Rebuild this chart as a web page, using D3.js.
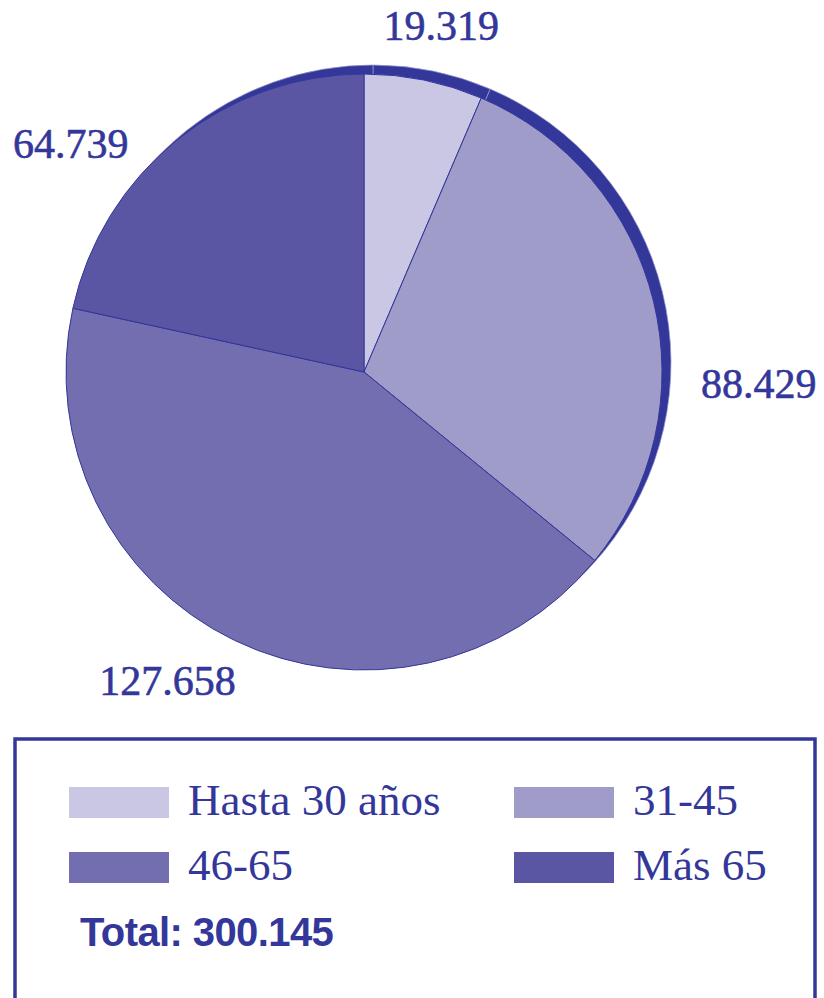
<!DOCTYPE html>
<html>
<head>
<meta charset="utf-8">
<script src="https://cdn.jsdelivr.net/npm/d3@7"></script>
<style>
  body { margin: 0; background: #fff; }
  svg { display: block; }
</style>
</head>
<body>
<div id="chart"></div>
<script>
// data
const categories = ["Hasta 30 años", "31-45", "46-65", "Más 65"];
const values = [19319, 88429, 127658, 64739];
const valueLabels = ["19.319", "88.429", "127.658", "64.739"];
const totalLabel = "Total: 300.145";

// styles
const sliceColors = ["#c9c7e4", "#a09cca", "#726eb0", "#5a56a3"];
const ink = "#34379a";

const svgWidth = 824;
const svgHeight = 998;
const cx = 364, cy = 372, radius = 298;
// the dark rim is a copy of the pie shifted up-right
const shadowDx = 9, shadowDy = -9;

// labels sit outside the pie, shifted off the slice middle a bit
const labelRadius = [355, 395, 366, 372];
const labelTurn = [1, 15.4, 6.7, -13.2]; // degrees

const svg = d3.select("#chart")
  .append("svg")
  .attr("width", svgWidth)
  .attr("height", svgHeight);

const pie = d3.pie().sort(null).value(d => d);
const arcs = pie(values);
const arc = d3.arc().innerRadius(0).outerRadius(radius);

// shadow
svg.append("g")
  .attr("transform", `translate(${cx + shadowDx},${cy + shadowDy})`)
  .selectAll("path")
  .data(arcs)
  .enter()
  .append("path")
  .attr("d", arc)
  .attr("fill", ink)
  .attr("stroke", "#9a9ccc")
  .attr("stroke-width", 0.7);

// main pie
svg.append("g")
  .attr("transform", `translate(${cx},${cy})`)
  .selectAll("path")
  .data(arcs)
  .enter()
  .append("path")
  .attr("d", arc)
  .attr("fill", (d, i) => sliceColors[i])
  .attr("stroke", ink)
  .attr("stroke-width", 1);

// value labels
const labels = svg.append("g").attr("transform", `translate(${cx},${cy})`);
arcs.forEach(function (d, i) {
  const mid = (d.startAngle + d.endAngle) / 2 + labelTurn[i] * Math.PI / 180;
  const r = labelRadius[i];
  labels.append("text")
    .attr("x", Math.sin(mid) * r)
    .attr("y", -Math.cos(mid) * r)
    .attr("dy", "0.35em")
    .attr("text-anchor", "middle")
    .attr("font-family", "'Liberation Serif', 'DejaVu Serif', serif")
    .attr("font-size", 42)
    .attr("fill", ink)
    .attr("stroke", ink)
    .attr("stroke-width", 0.6)
    .text(valueLabels[i]);
});

// legend box
const box = { x: 15, y: 739, w: 800, h: 270 };
svg.append("rect")
  .attr("x", box.x)
  .attr("y", box.y)
  .attr("width", box.w)
  .attr("height", box.h)
  .attr("fill", "none")
  .attr("stroke", ink)
  .attr("stroke-width", 3.5);

const colX = d3.scalePoint().domain([0, 1]).range([69, 514]);
const rowY = d3.scalePoint().domain([0, 1]).range([787, 852]);

const legend = svg.append("g")
  .selectAll("g")
  .data(categories)
  .enter()
  .append("g")
  .attr("transform", (d, i) => `translate(${colX(i % 2)},${rowY(Math.floor(i / 2))})`);

legend.append("rect")
  .attr("width", 100)
  .attr("height", 31)
  .attr("fill", (d, i) => sliceColors[i]);

legend.append("text")
  .attr("x", 119)
  .attr("y", 28)
  .attr("font-family", "'Liberation Serif', 'DejaVu Serif', serif")
  .attr("font-size", 45)
  .attr("fill", ink)
  .text(d => d);

svg.append("text")
  .attr("x", 80)
  .attr("y", 946)
  .attr("font-family", "'Liberation Sans', Arial, sans-serif")
  .attr("font-weight", "bold")
  .attr("font-size", 40)
  .attr("letter-spacing", -0.6)
  .attr("fill", ink)
  .text(totalLabel);
</script>
</body>
</html>
